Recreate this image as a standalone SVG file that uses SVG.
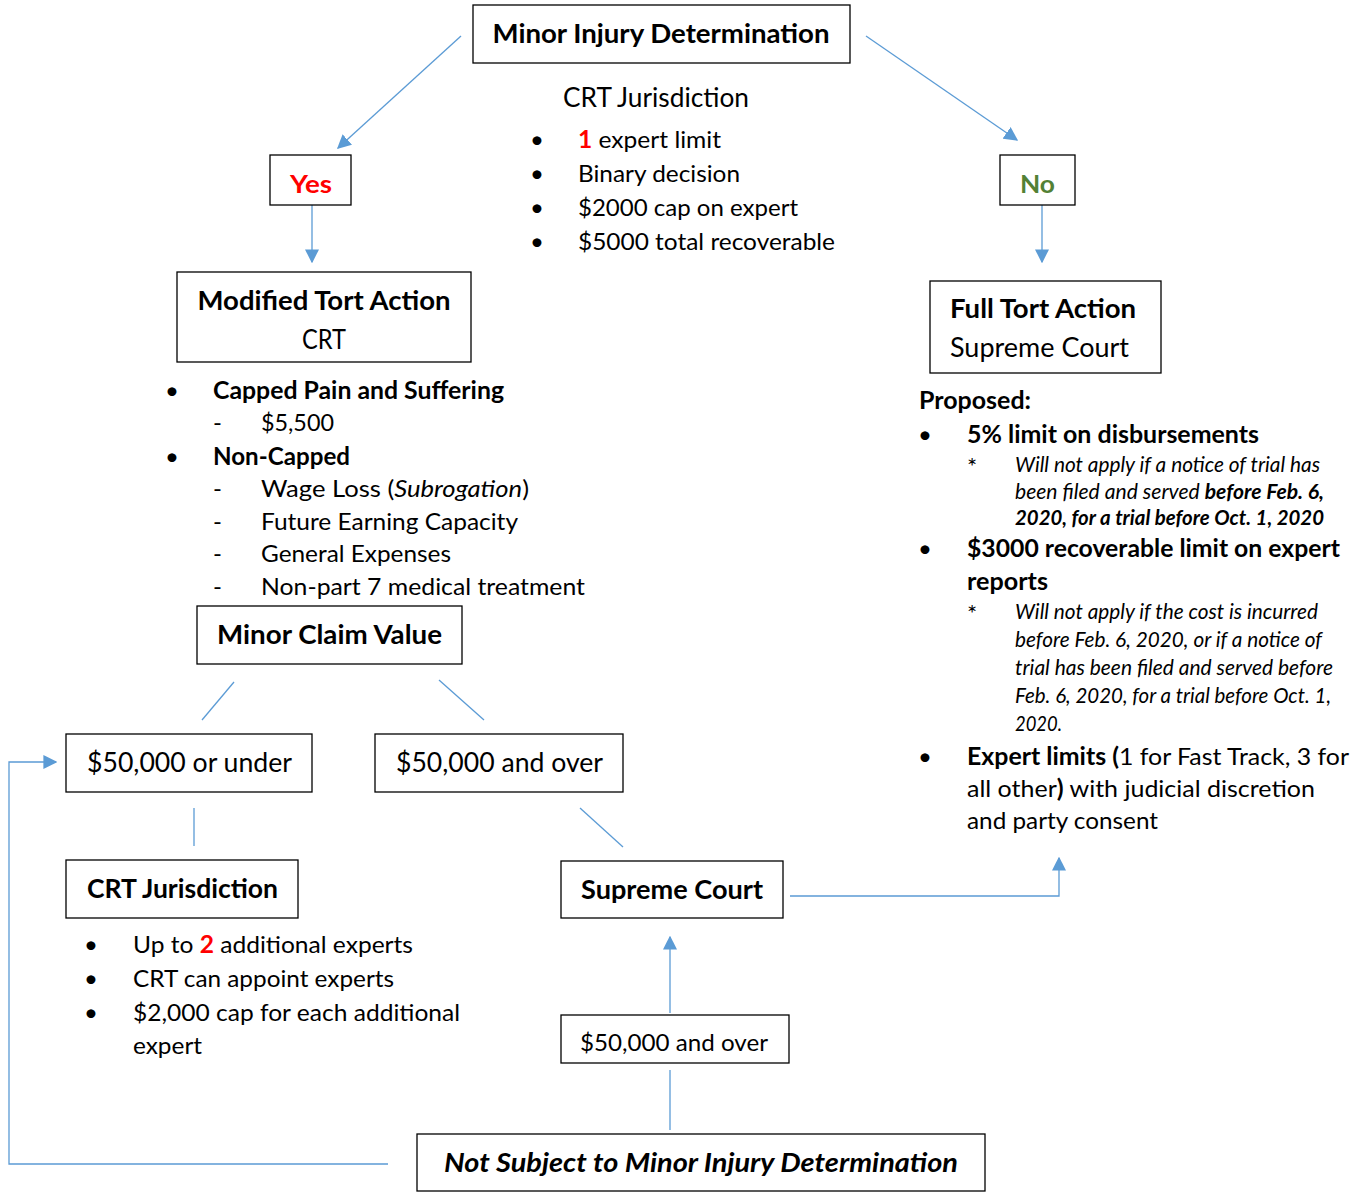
<svg xmlns="http://www.w3.org/2000/svg" width="1361" height="1203" viewBox="0 0 1361 1203">
<style>
text{font-family:Lato,"Open Sans","Liberation Sans",sans-serif;fill:#000;font-size:24px}
.b{font-weight:bold}
.i{font-style:italic}
.c{text-anchor:middle}
.h{font-size:27px}
.box{fill:#fff;stroke:#000;stroke-width:1.3}
.ln{fill:none;stroke:#5B9BD5;stroke-width:1.3}
.sm{font-size:20.5px}
.red{fill:#f00}
.grn{fill:#538135}
</style>
<defs>
<marker id="ah" viewBox="0 0 10 10" refX="9" refY="5" markerWidth="14" markerHeight="14" markerUnits="userSpaceOnUse" orient="auto">
<path d="M0,0 L10,5 L0,10 z" fill="#5B9BD5"/>
</marker>
</defs>
<rect width="1361" height="1203" fill="#fff"/>
<g id="connectors">
<line class="ln" x1="461" y1="36" x2="338" y2="148" marker-end="url(#ah)"/>
<line class="ln" x1="866" y1="36" x2="1017" y2="140" marker-end="url(#ah)"/>
<line class="ln" x1="312" y1="205" x2="312" y2="262" marker-end="url(#ah)"/>
<line class="ln" x1="1042" y1="205" x2="1042" y2="262" marker-end="url(#ah)"/>
<line class="ln" x1="234" y1="682" x2="202" y2="720"/>
<line class="ln" x1="439" y1="680" x2="484" y2="720"/>
<line class="ln" x1="194" y1="808" x2="194" y2="846"/>
<line class="ln" x1="580" y1="808" x2="623" y2="847"/>
<polyline class="ln" points="790,896 1059,896 1059,858" marker-end="url(#ah)"/>
<line class="ln" x1="670" y1="1013" x2="670" y2="937" marker-end="url(#ah)"/>
<line class="ln" x1="670" y1="1070" x2="670" y2="1130"/>
<polyline class="ln" points="388,1164 9,1164 9,762 56,762" marker-end="url(#ah)"/>
</g>
<g id="minor-injury">
<rect class="box" x="473" y="5" width="377" height="58"/>
<text class="b c h" x="661" y="43" textLength="337" lengthAdjust="spacingAndGlyphs">Minor Injury Determination</text>
</g>
<g id="crt-top">
<text class="h" x="563" y="107" textLength="186" lengthAdjust="spacingAndGlyphs">CRT Jurisdiction</text>
<text x="530" y="148">•</text><text x="578" y="148" textLength="143" lengthAdjust="spacingAndGlyphs"><tspan class="b red">1</tspan> expert limit</text>
<text x="530" y="182">•</text><text x="578" y="182" textLength="162" lengthAdjust="spacingAndGlyphs">Binary decision</text>
<text x="530" y="216">•</text><text x="578" y="216" textLength="220" lengthAdjust="spacingAndGlyphs">$2000 cap on expert</text>
<text x="530" y="250">•</text><text x="578" y="250" textLength="257" lengthAdjust="spacingAndGlyphs">$5000 total recoverable</text>
</g>
<g id="yes">
<rect class="box" x="270" y="155" width="81" height="50"/>
<text class="b c red" x="311" y="193" textLength="42" lengthAdjust="spacingAndGlyphs">Yes</text>
</g>
<g id="no">
<rect class="box" x="1000" y="155" width="75" height="50"/>
<text class="b c grn" x="1037.5" y="193" textLength="35" lengthAdjust="spacingAndGlyphs">No</text>
</g>
<g id="modified-tort">
<rect class="box" x="177" y="272" width="294" height="90"/>
<text class="b c h" x="324" y="310" textLength="253" lengthAdjust="spacingAndGlyphs">Modified Tort Action</text>
<text class="c h" x="324" y="349" textLength="44" lengthAdjust="spacingAndGlyphs">CRT</text>
</g>
<g id="modified-list">
<text x="165" y="399">•</text><text class="b" x="213" y="399" textLength="291" lengthAdjust="spacingAndGlyphs">Capped Pain and Suffering</text>
<text x="213" y="431">-</text><text x="261" y="431" textLength="73" lengthAdjust="spacingAndGlyphs">$5,500</text>
<text x="165" y="465">•</text><text class="b" x="213" y="465" textLength="137" lengthAdjust="spacingAndGlyphs">Non-Capped</text>
<text x="213" y="497">-</text><text x="261" y="497" textLength="268" lengthAdjust="spacingAndGlyphs">Wage Loss (<tspan class="i">Subrogation</tspan>)</text>
<text x="213" y="530">-</text><text x="261" y="530" textLength="257" lengthAdjust="spacingAndGlyphs">Future Earning Capacity</text>
<text x="213" y="562">-</text><text x="261" y="562" textLength="190" lengthAdjust="spacingAndGlyphs">General Expenses</text>
<text x="213" y="595">-</text><text x="261" y="595" textLength="324" lengthAdjust="spacingAndGlyphs">Non-part 7 medical treatment</text>
</g>
<g id="minor-claim">
<rect class="box" x="197" y="606" width="265" height="58"/>
<text class="b c h" x="329.5" y="644" textLength="225" lengthAdjust="spacingAndGlyphs">Minor Claim Value</text>
</g>
<g id="under50">
<rect class="box" x="66" y="734" width="246" height="58"/>
<text class="c h" x="189.5" y="772" textLength="205" lengthAdjust="spacingAndGlyphs">$50,000 or under</text>
</g>
<g id="over50">
<rect class="box" x="375" y="734" width="248" height="58"/>
<text class="c h" x="499.5" y="772" textLength="207" lengthAdjust="spacingAndGlyphs">$50,000 and over</text>
</g>
<g id="crt-bottom">
<rect class="box" x="66" y="860" width="232" height="58"/>
<text class="b c h" x="182.5" y="898" textLength="191" lengthAdjust="spacingAndGlyphs">CRT Jurisdiction</text>
<text x="84" y="953">•</text><text x="133" y="953" textLength="280" lengthAdjust="spacingAndGlyphs">Up to <tspan class="b red">2</tspan> additional experts</text>
<text x="84" y="987">•</text><text x="133" y="987" textLength="261" lengthAdjust="spacingAndGlyphs">CRT can appoint experts</text>
<text x="84" y="1021">•</text><text x="133" y="1021" textLength="327" lengthAdjust="spacingAndGlyphs">$2,000 cap for each additional</text>
<text x="133" y="1054" textLength="69" lengthAdjust="spacingAndGlyphs">expert</text>
</g>
<g id="supreme">
<rect class="box" x="561" y="861" width="222" height="57"/>
<text class="b c h" x="672" y="899" textLength="182" lengthAdjust="spacingAndGlyphs">Supreme Court</text>
</g>
<g id="over50-small">
<rect class="box" x="561" y="1015" width="228" height="48"/>
<text class="c" x="674" y="1051" textLength="188" lengthAdjust="spacingAndGlyphs">$50,000 and over</text>
</g>
<g id="not-subject">
<rect class="box" x="417" y="1134" width="568" height="57"/>
<text class="b i c h" x="701" y="1172" textLength="514" lengthAdjust="spacingAndGlyphs">Not Subject to Minor Injury Determination</text>
</g>
<g id="full-tort">
<rect class="box" x="930" y="281" width="231" height="92"/>
<text class="b c h" x="1043" y="318" textLength="186" lengthAdjust="spacingAndGlyphs">Full Tort Action</text>
<text class="c h" x="1039.5" y="357" textLength="179" lengthAdjust="spacingAndGlyphs">Supreme Court</text>
</g>
<g id="proposed">
<text class="b" x="919" y="409" textLength="112" lengthAdjust="spacingAndGlyphs">Proposed:</text>
<text x="918" y="443">•</text><text class="b" x="967" y="443" textLength="292" lengthAdjust="spacingAndGlyphs">5% limit on disbursements</text>
<text x="967" y="475">*</text>
<text class="i sm" x="1015" y="472" textLength="305" lengthAdjust="spacingAndGlyphs">Will not apply if a notice of trial has</text>
<text class="i sm" x="1015" y="499" textLength="309" lengthAdjust="spacingAndGlyphs">been filed and served <tspan class="b">before Feb. 6,</tspan></text>
<text class="i b sm" x="1015" y="525" textLength="309" lengthAdjust="spacingAndGlyphs">2020, for a trial before Oct. 1, 2020</text>
<text x="918" y="557">•</text><text class="b" x="967" y="557" textLength="373" lengthAdjust="spacingAndGlyphs">$3000 recoverable limit on expert</text>
<text class="b" x="967" y="590" textLength="81" lengthAdjust="spacingAndGlyphs">reports</text>
<text x="967" y="622">*</text>
<text class="i sm" x="1015" y="619" textLength="303" lengthAdjust="spacingAndGlyphs">Will not apply if the cost is incurred</text>
<text class="i sm" x="1015" y="647" textLength="307" lengthAdjust="spacingAndGlyphs">before Feb. 6, 2020, or if a notice of</text>
<text class="i sm" x="1015" y="675" textLength="318" lengthAdjust="spacingAndGlyphs">trial has been filed and served before</text>
<text class="i sm" x="1015" y="703" textLength="316" lengthAdjust="spacingAndGlyphs">Feb. 6, 2020, for a trial before Oct. 1,</text>
<text class="i sm" x="1015" y="731" textLength="47" lengthAdjust="spacingAndGlyphs">2020.</text>
<text x="918" y="765">•</text><text x="967" y="765" textLength="382" lengthAdjust="spacingAndGlyphs"><tspan class="b">Expert limits (</tspan>1 for Fast Track, 3 for</text>
<text x="967" y="797" textLength="348" lengthAdjust="spacingAndGlyphs">all other<tspan class="b">)</tspan> with judicial discretion</text>
<text x="967" y="829" textLength="191" lengthAdjust="spacingAndGlyphs">and party consent</text>
</g>
</svg>
